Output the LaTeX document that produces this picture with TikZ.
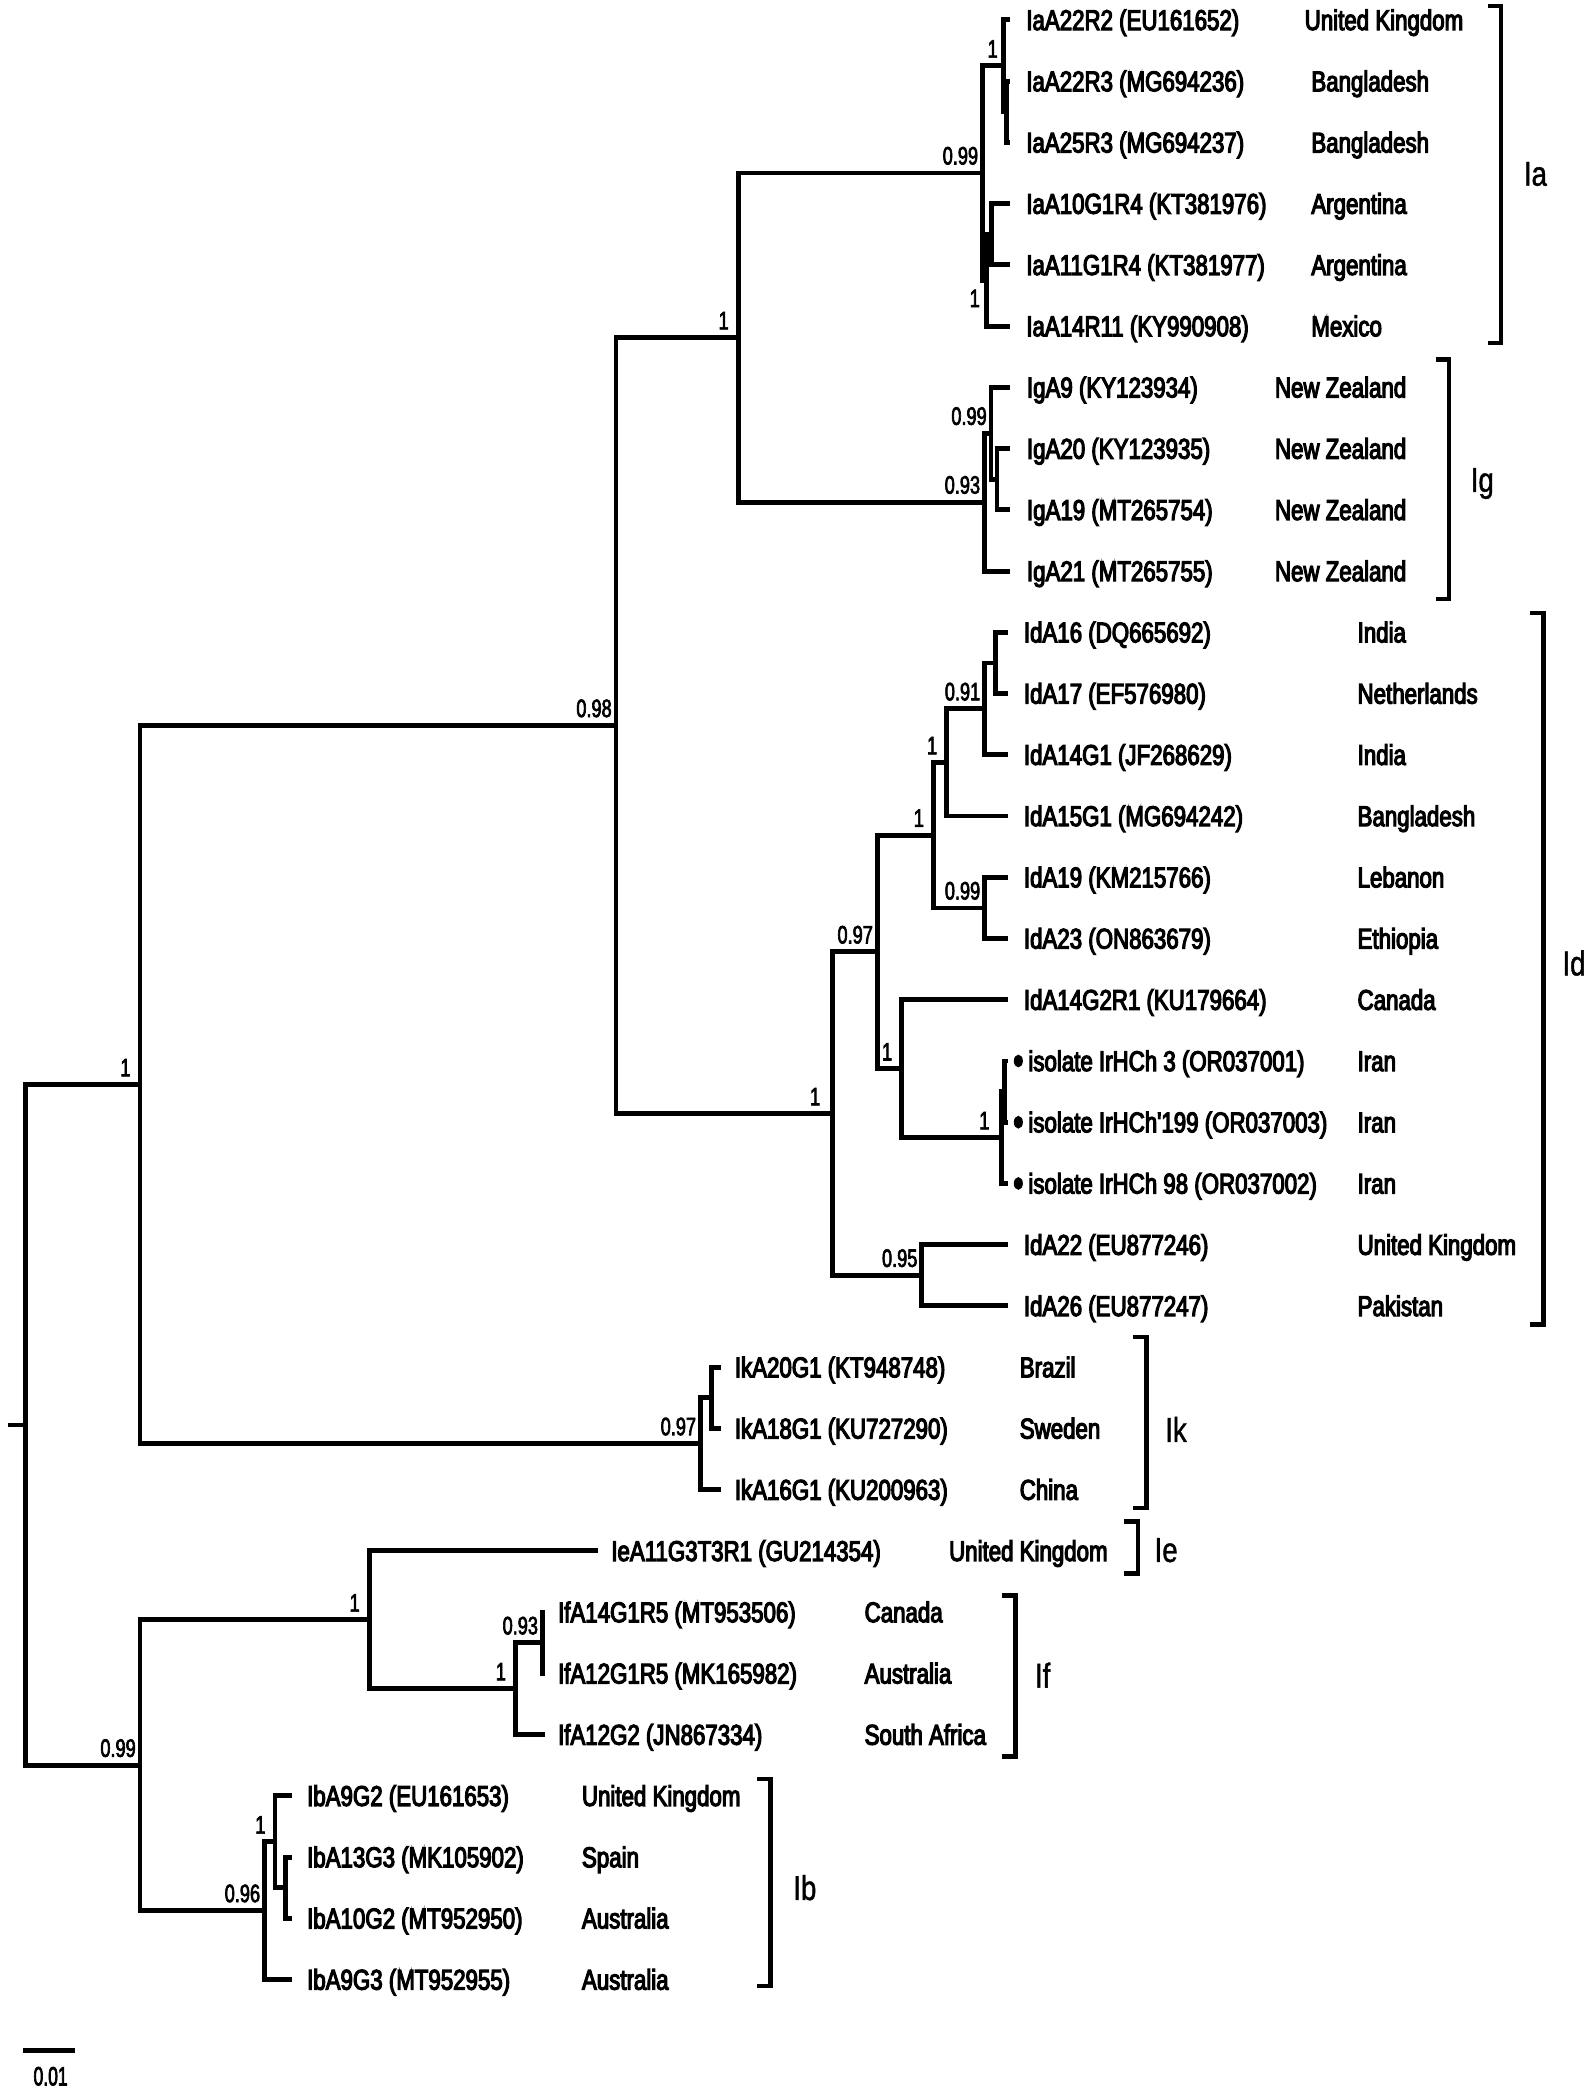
\documentclass[tikz,border=0pt]{standalone}
\usepackage{fontspec}
\setmainfont{Liberation Sans}
\newfontfamily\taxonfont{Liberation Sans}[FakeStretch=0.78,FakeBold=4]
\newfontfamily\supportfont{Liberation Sans}[FakeStretch=0.72,FakeBold=2.5]
\newfontfamily\cladefont{Liberation Sans}[FakeStretch=0.8,FakeBold=1.2]
\newfontfamily\scalefont{Liberation Sans}[FakeStretch=0.66,FakeBold=2.5]

\begin{document}
\begin{tikzpicture}[x=1pt,y=-1pt,
    branch/.style={line width=3.7pt, line join=miter},
    bracketline/.style={line width=3.3pt, line join=miter},
    taxon/.style={anchor=base west, inner sep=0pt, yshift=-7.6pt, font=\taxonfont\fontsize{21.5}{22}\selectfont},
    supp/.style={anchor=south east, inner sep=0pt, xshift=-3pt, yshift=6pt, font=\supportfont\fontsize{19}{20}\selectfont},
    supplow/.style={anchor=north east, inner sep=0pt, xshift=-5pt, yshift=-7pt, font=\supportfont\fontsize{19}{20}\selectfont},
    clade/.style={anchor=west, inner sep=0pt, font=\cladefont\fontsize{26}{27}\selectfont}]
    \useasboundingbox (0,0) rectangle (1200,1574.1);

    % Internal nodes
    \coordinate (root) at (19.3,1072.7);
    \coordinate (rootstub) at (6.3,1072.7);
    \coordinate (nA) at (105.4,816.5);
    \coordinate (nB) at (463.7,546.2);
    \coordinate (nC) at (555.8,254.1);
    \coordinate (nIa) at (739.5,130.2);
    \coordinate (nIa1) at (755.3,49.6);
    \coordinate (nIa1b) at (757.8,84.2);
    \coordinate (nIa2) at (742.8,210.9);
    \coordinate (nIa2b) at (746.5,176.4);
    \coordinate (nIg) at (741,378.0);
    \coordinate (nIg1) at (746,326.2);
    \coordinate (nIg2) at (750.5,360.8);
    \coordinate (nId) at (626.6,838.3);
    \coordinate (nId7) at (660.3,716.6);
    \coordinate (nId5) at (702.7,628.7);
    \coordinate (nId3) at (712.7,574.0);
    \coordinate (nId2) at (741.1,533.6);
    \coordinate (nId1) at (749.5,499.1);
    \coordinate (nId4) at (741.1,683.5);
    \coordinate (nId6) at (678.8,804.5);
    \coordinate (nIso) at (754,856.3);
    \coordinate (nIso1) at (756,821.8);
    \coordinate (nId8) at (693.8,960.1);
    \coordinate (nIk) at (527.2,1086.8);
    \coordinate (nIk1) at (535.9,1052.3);
    \coordinate (nBot) at (105.4,1328.9);
    \coordinate (nEF) at (278,1219.4);
    \coordinate (nIf) at (388.1,1271.2);
    \coordinate (nIf1) at (408.2,1236.7);
    \coordinate (nIb) at (199,1438.3);
    \coordinate (nIb1) at (207,1386.5);
    \coordinate (nIb2) at (215,1421.1);

    % Ia clade
    \coordinate (t1) at (760.3,15.0);   \node[taxon] (t1n) at (772.4,15.0) {IaA22R2 (EU161652)};   \node[taxon] (t1c) at (982,15.0) {United Kingdom};
    \coordinate (t2) at (760.3,61.1);   \node[taxon] (t2n) at (772.4,61.1) {IaA22R3 (MG694236)};   \node[taxon] (t2c) at (987,61.1) {Bangladesh};
    \coordinate (t3) at (760.3,107.2);  \node[taxon] (t3n) at (772.4,107.2) {IaA25R3 (MG694237)};  \node[taxon] (t3c) at (987,107.2) {Bangladesh};
    \coordinate (t4) at (760.3,153.3);  \node[taxon] (t4n) at (772.4,153.3) {IaA10G1R4 (KT381976)}; \node[taxon] (t4c) at (987,153.3) {Argentina};
    \coordinate (t5) at (760.3,199.4);  \node[taxon] (t5n) at (772.4,199.4) {IaA11G1R4 (KT381977)}; \node[taxon] (t5c) at (987,199.4) {Argentina};
    \coordinate (t6) at (760.3,245.5);  \node[taxon] (t6n) at (772.4,245.5) {IaA14R11 (KY990908)};  \node[taxon] (t6c) at (987,245.5) {Mexico};

    % Ig clade
    \coordinate (t7) at (760,291.6);    \node[taxon] (t7n) at (772.9,291.6) {IgA9 (KY123934)};     \node[taxon] (t7c) at (959.6,291.6) {New Zealand};
    \coordinate (t8) at (760,337.7);    \node[taxon] (t8n) at (772.9,337.7) {IgA20 (KY123935)};    \node[taxon] (t8c) at (959.6,337.7) {New Zealand};
    \coordinate (t9) at (760,383.8);    \node[taxon] (t9n) at (772.9,383.8) {IgA19 (MT265754)};    \node[taxon] (t9c) at (959.6,383.8) {New Zealand};
    \coordinate (t10) at (760,429.9);   \node[taxon] (t10n) at (772.9,429.9) {IgA21 (MT265755)};   \node[taxon] (t10c) at (959.6,429.9) {New Zealand};

    % Id clade
    \coordinate (t11) at (759,476.0);   \node[taxon] (t11n) at (770.6,476.0) {IdA16 (DQ665692)};   \node[taxon] (t11c) at (1021.8,476.0) {India};
    \coordinate (t12) at (759,522.1);   \node[taxon] (t12n) at (770.6,522.1) {IdA17 (EF576980)};   \node[taxon] (t12c) at (1021.8,522.1) {Netherlands};
    \coordinate (t13) at (759,568.2);   \node[taxon] (t13n) at (770.6,568.2) {IdA14G1 (JF268629)}; \node[taxon] (t13c) at (1021.8,568.2) {India};
    \coordinate (t14) at (759,614.3);   \node[taxon] (t14n) at (770.6,614.3) {IdA15G1 (MG694242)}; \node[taxon] (t14c) at (1021.8,614.3) {Bangladesh};
    \coordinate (t15) at (759,660.4);   \node[taxon] (t15n) at (770.6,660.4) {IdA19 (KM215766)};   \node[taxon] (t15c) at (1021.8,660.4) {Lebanon};
    \coordinate (t16) at (759,706.5);   \node[taxon] (t16n) at (770.6,706.5) {IdA23 (ON863679)};   \node[taxon] (t16c) at (1021.8,706.5) {Ethiopia};
    \coordinate (t17) at (759,752.6);   \node[taxon] (t17n) at (770.6,752.6) {IdA14G2R1 (KU179664)}; \node[taxon] (t17c) at (1021.8,752.6) {Canada};
    \coordinate (t18) at (759,798.7);   \node[taxon] (t18n) at (774,798.7) {isolate IrHCh 3 (OR037001)};   \node[taxon] (t18c) at (1021.8,798.7) {Iran};
    \coordinate (t19) at (759,844.8);   \node[taxon] (t19n) at (774,844.8) {isolate IrHCh'199 (OR037003)}; \node[taxon] (t19c) at (1021.8,844.8) {Iran};
    \coordinate (t20) at (759,890.9);   \node[taxon] (t20n) at (774,890.9) {isolate IrHCh 98 (OR037002)};  \node[taxon] (t20c) at (1021.8,890.9) {Iran};
    \coordinate (t21) at (759,937.0);   \node[taxon] (t21n) at (770.6,937.0) {IdA22 (EU877246)};   \node[taxon] (t21c) at (1021.8,937.0) {United Kingdom};
    \coordinate (t22) at (759,983.1);   \node[taxon] (t22n) at (770.6,983.1) {IdA26 (EU877247)};   \node[taxon] (t22c) at (1021.8,983.1) {Pakistan};

    % Iranian isolates
    \fill (766.6,798.7) ellipse [x radius=3.4pt, y radius=4.8pt];
    \fill (766.6,844.8) ellipse [x radius=3.4pt, y radius=4.8pt];
    \fill (766.6,890.9) ellipse [x radius=3.4pt, y radius=4.8pt];

    % Ik clade
    \coordinate (t23) at (542.4,1029.2); \node[taxon] (t23n) at (553,1029.2) {IkA20G1 (KT948748)}; \node[taxon] (t23c) at (767.5,1029.2) {Brazil};
    \coordinate (t24) at (542.4,1075.3); \node[taxon] (t24n) at (553,1075.3) {IkA18G1 (KU727290)}; \node[taxon] (t24c) at (767.5,1075.3) {Sweden};
    \coordinate (t25) at (542.4,1121.4); \node[taxon] (t25n) at (553,1121.4) {IkA16G1 (KU200963)}; \node[taxon] (t25c) at (767.5,1121.4) {China};

    % Ie and If clades
    \coordinate (t26) at (450,1167.5);  \node[taxon] (t26n) at (460,1167.5) {IeA11G3T3R1 (GU214354)}; \node[taxon] (t26c) at (714.3,1167.5) {United Kingdom};
    \coordinate (t27) at (410,1213.6);  \node[taxon] (t27n) at (419.9,1213.6) {IfA14G1R5 (MT953506)}; \node[taxon] (t27c) at (650.7,1213.6) {Canada};
    \coordinate (t28) at (410,1259.7);  \node[taxon] (t28n) at (419.9,1259.7) {IfA12G1R5 (MK165982)}; \node[taxon] (t28c) at (650.7,1259.7) {Australia};
    \coordinate (t29) at (410,1305.8);  \node[taxon] (t29n) at (419.9,1305.8) {IfA12G2 (JN867334)};   \node[taxon] (t29c) at (650.7,1305.8) {South Africa};

    % Ib clade
    \coordinate (t30) at (219.5,1351.9); \node[taxon] (t30n) at (231,1351.9) {IbA9G2 (EU161653)};  \node[taxon] (t30c) at (437.9,1351.9) {United Kingdom};
    \coordinate (t31) at (219.5,1398.0); \node[taxon] (t31n) at (231,1398.0) {IbA13G3 (MK105902)}; \node[taxon] (t31c) at (437.9,1398.0) {Spain};
    \coordinate (t32) at (219.5,1444.1); \node[taxon] (t32n) at (231,1444.1) {IbA10G2 (MT952950)}; \node[taxon] (t32c) at (437.9,1444.1) {Australia};
    \coordinate (t33) at (219.5,1490.2); \node[taxon] (t33n) at (231,1490.2) {IbA9G3 (MT952955)};  \node[taxon] (t33c) at (437.9,1490.2) {Australia};

    % Backbone
    \draw[branch] (rootstub) -- (root);
    \draw[branch] (root) |- (nA) (root) |- (nBot);
    \draw[branch] (nA) |- (nB) (nA) |- (nIk);
    \draw[branch] (nB) |- (nC) (nB) |- (nId);
    \draw[branch] (nC) |- (nIa) (nC) |- (nIg);

    % Ia branches
    \draw[branch] (nIa) |- (nIa1) (nIa) |- (nIa2);
    \draw[branch] (nIa1) |- (t1) (nIa1) |- (nIa1b) (nIa1b) |- (t2) (nIa1b) |- (t3);
    \draw[branch] (nIa2) |- (nIa2b) (nIa2) |- (t6) (nIa2b) |- (t4) (nIa2b) |- (t5);

    % Ig branches
    \draw[branch] (nIg) |- (nIg1) (nIg) |- (t10);
    \draw[branch] (nIg1) |- (t7) (nIg1) |- (nIg2) (nIg2) |- (t8) (nIg2) |- (t9);

    % Id branches
    \draw[branch] (nId) |- (nId7) (nId) |- (nId8);
    \draw[branch] (nId7) |- (nId5) (nId7) |- (nId6);
    \draw[branch] (nId5) |- (nId3) (nId5) |- (nId4);
    \draw[branch] (nId3) |- (nId2) (nId3) |- (t14);
    \draw[branch] (nId2) |- (nId1) (nId2) |- (t13) (nId1) |- (t11) (nId1) |- (t12);
    \draw[branch] (nId4) |- (t15) (nId4) |- (t16);
    \draw[branch] (nId6) |- (t17) (nId6) |- (nIso);
    \draw[branch] (nIso) |- (nIso1) (nIso) |- (t20) (nIso1) |- (t18) (nIso1) |- (t19);
    \draw[branch] (nId8) |- (t21) (nId8) |- (t22);

    % Ik branches
    \draw[branch] (nIk) |- (nIk1) (nIk) |- (t25) (nIk1) |- (t23) (nIk1) |- (t24);

    % Ie, If and Ib branches
    \draw[branch] (nBot) |- (nEF) (nBot) |- (nIb);
    \draw[branch] (nEF) |- (t26) (nEF) |- (nIf);
    \draw[branch] (nIf) |- (nIf1) (nIf) |- (t29) (nIf1) |- (t27) (nIf1) |- (t28);
    \draw[branch] (nIb) |- (nIb1) (nIb) |- (t33);
    \draw[branch] (nIb1) |- (t30) (nIb1) |- (nIb2) (nIb2) |- (t31) (nIb2) |- (t32);

    % Support values
    \node[supp, xshift=-4pt] (sA) at (nA) {1};
    \node[supp] (sB) at (nB) {0.98};
    \node[supp, xshift=-4pt] (sC) at (nC) {1};
    \node[supp] (sIa) at (nIa) {0.99};
    \node[supp, xshift=-1pt] (sIa1) at (nIa1) {1};
    \node[supplow] (sIa2) at (nIa2) {1};
    \node[supp] (sIg) at (nIg) {0.93};
    \node[supp] (sIg1) at (nIg1) {0.99};
    \node[supp, xshift=-6pt] (sId) at (nId) {1};
    \node[supp] (sId7) at (nId7) {0.97};
    \node[supp, xshift=-4pt] (sId5) at (nId5) {1};
    \node[supp, xshift=-4pt] (sId3) at (nId3) {1};
    \node[supp] (sId2) at (nId2) {0.91};
    \node[supp] (sId4) at (nId4) {0.99};
    \node[supp, xshift=-4pt] (sId6) at (nId6) {1};
    \node[supp, xshift=-6pt] (sIso) at (nIso) {1};
    \node[supp] (sId8) at (nId8) {0.95};
    \node[supp] (sIk) at (nIk) {0.97};
    \node[supp] (sBot) at (nBot) {0.99};
    \node[supp, xshift=-4pt] (sEF) at (nEF) {1};
    \node[supp, xshift=-4pt] (sIf) at (nIf) {1};
    \node[supp] (sIf1) at (nIf1) {0.93};
    \node[supp] (sIb) at (nIb) {0.96};
    \node[supp, xshift=-4pt] (sIb1) at (nIb1) {1};

    % Clade brackets
    \draw[bracketline] (1120,4.5) -- (1130,4.5) -- (1130,258) -- (1120,258);
    \node[clade] (cIa) at (1147,131) {Ia};
    \draw[bracketline] (1081,270.5) -- (1091,270.5) -- (1091,451) -- (1081,451);
    \node[clade] (cIg) at (1107,364) {Ig};
    \draw[bracketline] (1152,461.5) -- (1162,461.5) -- (1162,997) -- (1152,997);
    \node[clade] (cId) at (1176,725) {Id};
    \draw[bracketline] (853,1006.5) -- (863,1006.5) -- (863,1135.4) -- (853,1135.4);
    \node[clade] (cIk) at (877,1076) {Ik};
    \draw[bracketline] (846.5,1145.5) -- (856.5,1145.5) -- (856.5,1184.6) -- (846.5,1184.6);
    \node[clade] (cIe) at (869,1167) {Ie};
    \draw[bracketline] (754.5,1201) -- (764.5,1201) -- (764.5,1322.3) -- (754.5,1322.3);
    \node[clade] (cIf) at (779,1261) {If};
    \draw[bracketline] (570,1339) -- (580,1339) -- (580,1495) -- (570,1495);
    \node[clade] (cIb) at (597,1421) {Ib};

    % Scale bar
    \coordinate (sbl) at (17.6,1543.5);
    \coordinate (sbr) at (56.5,1543.5);
    \draw[line width=4.3pt] (sbl) -- (sbr);
    \node[font=\scalefont\fontsize{20}{21}\selectfont, inner sep=0pt] (sbtext) at (38.1,1563) {0.01};
\end{tikzpicture}
\end{document}
